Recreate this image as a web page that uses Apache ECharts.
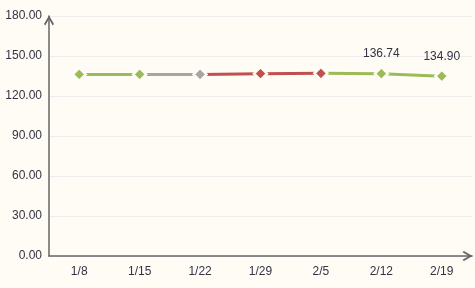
<!DOCTYPE html>
<html><head><meta charset="utf-8">
<script src="https://cdn.jsdelivr.net/npm/echarts@6/dist/echarts.min.js"></script>
<style>html,body{margin:0;padding:0;background:#fffcf5;}#c{width:475px;height:288px;}</style>
</head><body><div id="c"></div>
<script>
const categories = ['1/8','1/15','1/22','1/29','2/5','2/12','2/19'];
const values = [136.2, 136.2, 136.2, 136.7, 137.0, 136.74, 134.90];
const pointColors = ['#9bbb59','#9bbb59','#a5a5a5','#c0504d','#c0504d','#9bbb59','#9bbb59'];
const labeled = [false,false,false,false,false,true,true];
const yTicks = {min:0, max:180, interval:30};

const series = [];
for (let i = 1; i < values.length; i++) {
  const d = values.map((v, j) => (j === i - 1 || j === i) ? v : null);
  series.push({
    type:'line', data:d, symbol:'none', silent:true, z:2,
    lineStyle:{color:pointColors[i], width:3}
  });
}
series.push({
  type:'line', z:5,
  data: values.map((v,i)=>({
    value:v,
    itemStyle:{color:pointColors[i], borderColor:'#fffcf5', borderWidth:2.5},
    label:{show:labeled[i]}
  })),
  symbol:'diamond', symbolSize:13,
  lineStyle:{opacity:0},
  label:{show:false, position:'top', distance:6, color:'#333344', fontSize:12, fontFamily:'Arial, Liberation Sans, sans-serif', formatter:p=>p.value.toFixed(2)}
});

const chevron = 'path://M5,0 L10,8.6 L8.7,10 L5,3.6 L1.3,10 L0,8.6 Z';
const chart = echarts.init(document.getElementById('c'));
chart.setOption({
  backgroundColor:'#fffcf5',
  animation:false,
  grid:{left:49, right:3, top:16, bottom:32},
  xAxis:{
    type:'category', data:categories, boundaryGap:true,
    axisLine:{lineStyle:{color:'#666', width:1.5}, symbol:['none',chevron], symbolSize:[11,10], symbolOffset:[0,-4.5]},
    axisTick:{show:false},
    axisLabel:{color:'#333344', fontSize:12, margin:10, fontFamily:'Arial, Liberation Sans, sans-serif'}
  },
  yAxis:{
    type:'value', min:yTicks.min, max:yTicks.max, interval:yTicks.interval,
    axisLine:{show:true, lineStyle:{color:'#666', width:1.5}, symbol:['none',chevron], symbolSize:[11,10], symbolOffset:[0,-4.5]},
    axisTick:{show:false},
    splitLine:{lineStyle:{color:'#eeeeee', width:1}},
    axisLabel:{color:'#333344', fontSize:12, margin:7, fontFamily:'Arial, Liberation Sans, sans-serif', formatter:v=>v.toFixed(2)}
  },
  series:series
});
</script></body></html>
